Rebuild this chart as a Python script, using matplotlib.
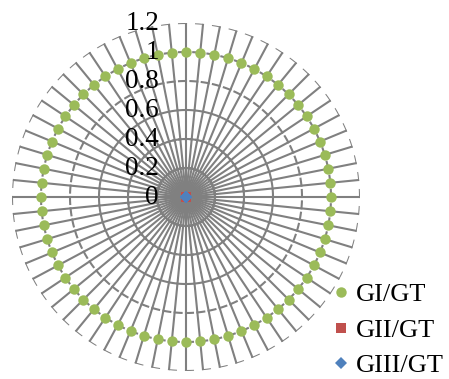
import numpy as np
import matplotlib.pyplot as plt
import matplotlib.transforms as mtransforms

plt.rcParams['font.family'] = ['Liberation Serif', 'DejaVu Serif']

# 64 categories, ratios per category
n_cat = 64
categories = [str(i + 1) for i in range(n_cat)]
gi_gt = [1.0] * n_cat
gii_gt = [0.0] * n_cat
giii_gt = [0.0] * n_cat
levels = [0, 0.2, 0.4, 0.6, 0.8, 1.0, 1.2]
level_labels = ['0', '0.2', '0.4', '0.6', '0.8', '1', '1.2']

grid_col = '#808080'
px_per_unit = 145.0   # radius of 1.0 in pixels
tick_px = 7.0         # length of the gridline hooks in pixels

fig = plt.figure(figsize=(4.49, 3.79), dpi=100)
ax = fig.add_axes([12 / 449, 8 / 379, 348 / 449, 348 / 379], projection='polar')
ax.set_theta_offset(np.pi / 2)
ax.set_theta_direction(-1)
ax.set_ylim(0, 1.2)
ax.grid(False)
ax.set_xticks([])
ax.set_yticks([])
ax.spines['polar'].set_visible(False)

theta = np.arange(n_cat) * 2 * np.pi / n_cat

# spokes
for t in theta:
    ax.plot([t, t], [0, 1.2], color=grid_col, lw=1.5, zorder=1)

# gridline hooks (short segments running counter-clockwise from each spoke)
for r in levels[1:]:
    dt = tick_px / (r * px_per_unit)
    for t in theta:
        ax.plot(np.linspace(t - dt, t, 5), [r] * 5, color=grid_col, lw=1.5,
                zorder=1)

# series
h1, = ax.plot(theta, gi_gt, 'o', color='#9BBB59', ms=7.5, mew=0, zorder=3, label='GI/GT')
h2, = ax.plot(theta, gii_gt, 's', color='#C0504D', ms=7, mew=0, zorder=4, label='GII/GT')
h3, = ax.plot(theta, giii_gt, 'D', color='#4F81BD', ms=6, mew=0, zorder=5, label='GIII/GT')

# value axis labels
off = mtransforms.offset_copy(ax.transData, fig=fig, x=-27, y=0, units='dots')
for r, lab in zip(levels, level_labels):
    ax.text(0, r, lab, transform=off, ha='right', va='center', fontsize=19.5,
            zorder=6, clip_on=False)

leg = fig.legend(handles=[h1, h2, h3], loc='upper left',
                 bbox_to_anchor=(335 / 449, 1 - 283 / 379),
                 frameon=False, fontsize=19, numpoints=1, handlelength=0.45,
                 handletextpad=0.35, labelspacing=0.45, borderaxespad=0, borderpad=0,
                 markerscale=1.0)

fig.savefig('out.png', dpi=100)
